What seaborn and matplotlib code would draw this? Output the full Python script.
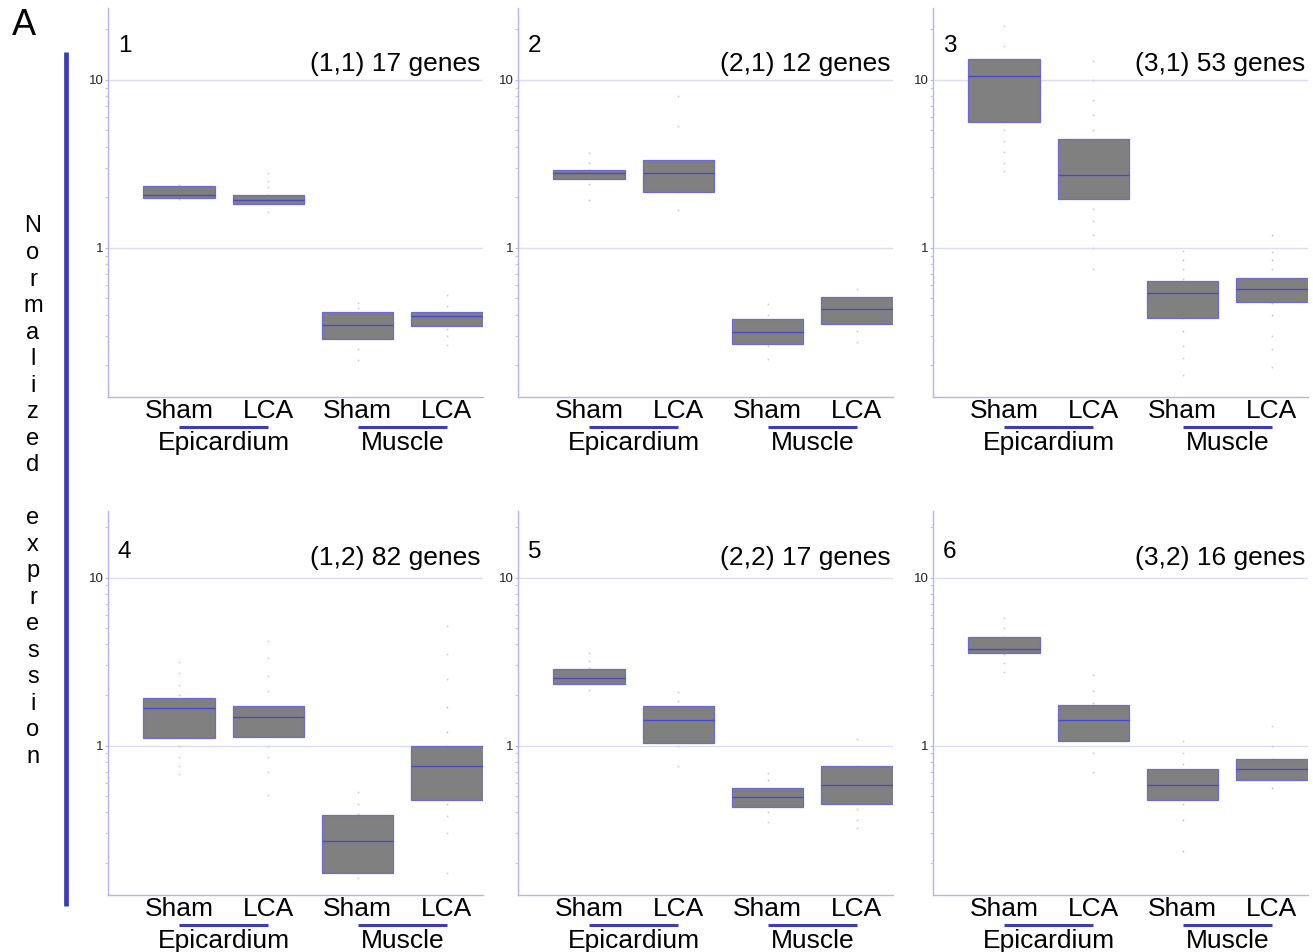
import numpy as np
import pandas as pd
import matplotlib
matplotlib.use("Agg")
import matplotlib.pyplot as plt
import matplotlib.transforms as mtransforms
from matplotlib.ticker import LogLocator, NullFormatter, FixedLocator
import seaborn as sns

plt.rcParams['font.family'] = ['Liberation Sans', 'DejaVu Sans']

# ---------------- data ----------------
tissues = ["Epicardium", "Muscle"]
conditions = ["Sham", "LCA"]
box_order = ["Epicardium Sham", "Epicardium LCA", "Muscle Sham", "Muscle LCA"]

panel_numbers = ["1", "2", "3", "4", "5", "6"]
panel_titles = ["(1,1) 17 genes", "(2,1) 12 genes", "(3,1) 53 genes",
                "(1,2) 82 genes", "(2,2) 17 genes", "(3,2) 16 genes"]

# box statistics per panel (order: Epi Sham, Epi LCA, Muscle Sham, Muscle LCA)
q1 = [
    [1.99, 1.83, 0.288, 0.342],
    [2.58, 2.15, 0.269, 0.350],
    [5.64, 1.96, 0.382, 0.473],
    [1.106, 1.12, 0.173, 0.471],
    [2.33, 1.033, 0.432, 0.45],
    [3.54, 1.066, 0.475, 0.625],
]
median = [
    [2.07, 1.93, 0.349, 0.394],
    [2.79, 2.79, 0.317, 0.43],
    [10.6, 2.72, 0.538, 0.567],
    [1.675, 1.475, 0.271, 0.75],
    [2.52, 1.42, 0.497, 0.578],
    [3.74, 1.42, 0.578, 0.726],
]
q3 = [
    [2.32, 2.07, 0.414, 0.414],
    [2.92, 3.32, 0.375, 0.509],
    [13.35, 4.47, 0.635, 0.659],
    [1.91, 1.72, 0.388, 1.0],
    [2.86, 1.72, 0.562, 0.75],
    [4.44, 1.75, 0.723, 0.829],
]

# individual gene values (faint dots)
dots_1 = [[2.37, 2.3, 2.2, 2.1, 2.05, 2.0, 1.95],
          [2.79, 2.5, 2.3, 2.05, 1.95, 1.85, 1.64],
          [0.47, 0.44, 0.40, 0.36, 0.32, 0.29, 0.25, 0.216],
          [0.525, 0.45, 0.41, 0.38, 0.33, 0.30, 0.265]]
dots_2 = [[3.67, 3.2, 2.9, 2.75, 2.6, 2.4, 1.94],
          [8.07, 5.3, 3.3, 2.8, 2.15, 1.67],
          [0.46, 0.40, 0.35, 0.30, 0.26, 0.217],
          [0.571, 0.50, 0.43, 0.37, 0.32, 0.276]]
dots_3 = [[21, 16, 13, 11, 9, 7, 5.6, 5, 4.3, 3.7, 3.2, 2.87],
          [12.9, 10, 7.6, 6.2, 5.0, 4.0, 3.2, 2.5, 2.0, 1.7, 1.45, 1.2, 1.0, 0.75],
          [0.955, 0.85, 0.75, 0.65, 0.55, 0.45, 0.38, 0.32, 0.26, 0.22, 0.174],
          [1.19, 0.95, 0.85, 0.75, 0.65, 0.55, 0.47, 0.40, 0.30, 0.25, 0.194]]
dots_4 = [[3.13, 2.7, 2.3, 2.0, 1.7, 1.4, 1.2, 1.0, 0.85, 0.75, 0.679],
          [4.2, 3.3, 2.6, 2.1, 1.7, 1.4, 1.2, 1.0, 0.85, 0.7, 0.505],
          [0.529, 0.45, 0.39, 0.33, 0.27, 0.22, 0.19, 0.162],
          [5.16, 3.5, 2.5, 1.7, 1.2, 1.0, 0.85, 0.7, 0.55, 0.45, 0.38, 0.3, 0.173]]
dots_5 = [[3.55, 3.2, 2.9, 2.6, 2.4, 2.15],
          [2.07, 1.85, 1.6, 1.3, 1.0, 0.76],
          [0.685, 0.62, 0.55, 0.5, 0.45, 0.40, 0.35],
          [1.096, 0.75, 0.6, 0.5, 0.42, 0.36, 0.322]]
dots_6 = [[5.78, 5.0, 4.4, 3.9, 3.5, 3.1, 2.73],
          [2.63, 2.1, 1.8, 1.4, 1.1, 0.9, 0.693],
          [1.06, 0.9, 0.78, 0.65, 0.55, 0.45, 0.36, 0.236],
          [1.30, 1.0, 0.83, 0.72, 0.63, 0.562]]
dots = [dots_1, dots_2, dots_3, dots_4, dots_5, dots_6]

y_label = "Normalized expression"

# ---------------- style ----------------
BOX_FILL = "#808080"
BOX_EDGE = "#6a6ad0"
MEDIAN = "#4848cc"
SPINE = "#b4b4ee"
GRID = "#dcdcf4"
BLUE = "#3c3cb4"
DOT = "#cfcfcf"

W, H = 1313, 952
fig = plt.figure(figsize=(W / 100, H / 100), dpi=100)

col_left = [107.7, 517.7, 932.7]
ax_w = 375
rows = [(8, 396.5), (511, 894.5)]          # top / bottom pixel of axes
ylims = [(10 ** -0.885, 10 ** 1.428), (10 ** -0.887, 10 ** 1.396)]
num_off = [28, 19.5]       # panel number baseline above the "10" grid line (px)
title_off = [9, 12.5]      # title baseline above the "10" grid line (px)

for p in range(6):
    r, c = divmod(p, 3)
    top, bot = rows[r]
    ax = fig.add_axes([col_left[c] / W, (H - bot) / H, ax_w / W, (bot - top) / H])

    box_df = pd.DataFrame({
        "group": [g for g in box_order for _ in range(5)],
        "value": [v for i in range(4)
                  for v in (q1[p][i], q1[p][i], median[p][i], q3[p][i], q3[p][i])],
    })
    dot_df = pd.DataFrame({
        "group": [box_order[i] for i in range(4) for _ in dots[p][i]],
        "value": [v for i in range(4) for v in dots[p][i]],
    })

    sns.stripplot(data=dot_df, x="group", y="value", order=box_order,
                  jitter=False, size=1.4, color=DOT, linewidth=0,
                  log_scale=True, ax=ax, zorder=1)
    sns.boxplot(data=box_df, x="group", y="value", order=box_order,
                whis=0, showfliers=False, showcaps=False, width=0.8,
                log_scale=True, ax=ax, saturation=1,
                boxprops=dict(facecolor=BOX_FILL, edgecolor=BOX_EDGE, linewidth=0.9),
                medianprops=dict(color=MEDIAN, linewidth=1.0),
                whiskerprops=dict(linewidth=0))

    ax.set_xlim(-0.8, 3.4)
    ax.set_ylim(*ylims[r])
    ax.set_xlabel("")
    ax.set_ylabel("")

    ax.set_xticks(range(4))
    ax.set_xticklabels(conditions * 2, fontsize=19, color="black")
    ax.tick_params(axis="x", length=0, pad=1.8)

    ax.yaxis.set_major_locator(FixedLocator([1, 10]))
    ax.set_yticklabels(["1", "10"])
    ax.yaxis.set_minor_locator(LogLocator(base=10, subs=np.arange(2, 10)))
    ax.yaxis.set_minor_formatter(NullFormatter())
    ax.tick_params(axis="y", which="major", length=2, width=0.8, color=SPINE,
                   pad=1, labelsize=9.5, labelcolor="#222222")
    ax.tick_params(axis="y", which="minor", length=2, width=0.8, color="#c8c8e4")

    ax.grid(axis="y", which="major", color=GRID, linewidth=1.0)
    ax.set_axisbelow(True)
    for s in ("top", "right"):
        ax.spines[s].set_visible(False)
    for s in ("left", "bottom"):
        ax.spines[s].set_color(SPINE)
        ax.spines[s].set_linewidth(1.0)

    # group underline + tissue label
    blend = mtransforms.blended_transform_factory(ax.transData, ax.transAxes)
    line_tr = mtransforms.offset_copy(blend, fig=fig, y=-30.6, units="dots")
    for k, tissue in enumerate(tissues):
        ax.plot([2 * k, 2 * k + 1], [0, 0], color=BLUE, linewidth=2.2,
                transform=line_tr, clip_on=False, solid_capstyle="butt")
        ax.annotate(tissue, xy=(2 * k + 0.5, 0), xycoords=blend,
                    xytext=(0, -38.6), textcoords="offset points",
                    ha="center", va="baseline", fontsize=19, annotation_clip=False)

    # panel number and title
    tr_num = mtransforms.blended_transform_factory(ax.transAxes, ax.transData)
    ax.annotate(panel_numbers[p], xy=(0, 10), xycoords=tr_num,
                xytext=(10 * 0.72, num_off[r] * 0.72), textcoords="offset points",
                ha="left", va="baseline", fontsize=17.5)
    ax.annotate(panel_titles[p], xy=(1, 10), xycoords=tr_num,
                xytext=(-2 * 0.72, title_off[r] * 0.72), textcoords="offset points",
                ha="right", va="baseline", fontsize=19)

# left decorations
fig.text(24 / W, 1 - 25.5 / H, "A", fontsize=26, ha="center", va="center")
fig.add_artist(plt.Line2D([66 / W, 66 / W], [1 - 52 / H, 1 - 905.5 / H],
                          color=BLUE, linewidth=3.4, solid_capstyle="butt"))
step = (757 - 226.5) / (len(y_label) - 1)
for i, ch in enumerate(y_label):
    if ch == " ":
        continue
    fig.text(33 / W, 1 - (226.5 + i * step) / H, ch, fontsize=17,
             ha="center", va="center")

fig.savefig("out.png", dpi=100, facecolor="white")
